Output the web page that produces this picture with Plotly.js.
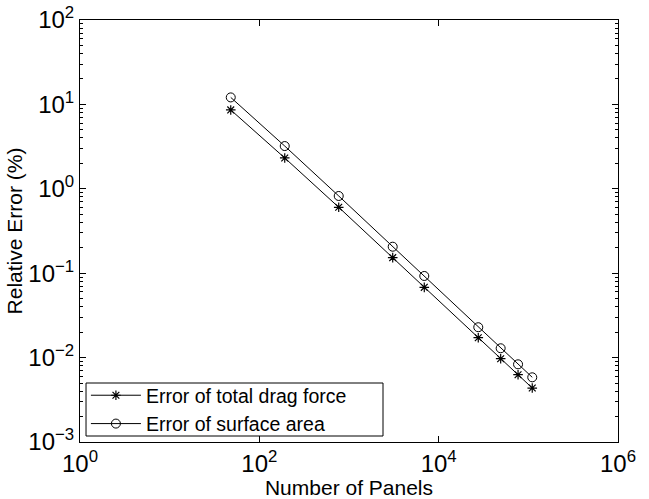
<!DOCTYPE html>
<html>
<head>
<meta charset="utf-8">
<script src="https://cdn.plot.ly/plotly-3.0.1.min.js"></script>
<style>html,body{margin:0;padding:0;background:#fff;}#chart{width:649px;height:499px;}</style>
</head>
<body>
<div id="chart"></div>
<script>
const panels = [48, 192, 768, 3072, 6912, 27648, 49152, 76800, 110592];
const dragError = [8.6, 2.32, 0.604, 0.153, 0.068, 0.0172, 0.0097, 0.00627, 0.00436];
const areaError = [12.1, 3.21, 0.822, 0.206, 0.0927, 0.0229, 0.0129, 0.00833, 0.00584];
const seriesNames = ['Error of total drag force', 'Error of surface area'];
const xTickVals = [1, 100, 10000, 1000000];
const xTickText = ['10<sup>0</sup>', '10<sup>2</sup>', '10<sup>4</sup>', '10<sup>6</sup>'];
const yTickVals = [0.001, 0.01, 0.1, 1, 10, 100];
const yTickText = ['10<sup>−3</sup>', '10<sup>−2</sup>', '10<sup>−1</sup>', '10<sup>0</sup>', '10<sup>1</sup>', '10<sup>2</sup>'];

const font = {family: 'Liberation Sans, Arial, Helvetica, sans-serif', color: '#000'};
const f = s => Object.assign({size: s}, font);

const traces = [
  {x: panels, y: dragError, name: seriesNames[0], mode: 'lines+markers', type: 'scatter',
   line: {color: '#000', width: 1},
   marker: {symbol: 'asterisk-open', size: 8, color: '#000', line: {color: '#000', width: 1.2}}},
  {x: panels, y: areaError, name: seriesNames[1], mode: 'lines+markers', type: 'scatter',
   line: {color: '#000', width: 1},
   marker: {symbol: 'circle-open', size: 9, color: '#000', line: {color: '#000', width: 1}}}
];

const layout = {
  width: 649, height: 499,
  margin: {l: 80, r: 31, t: 20, b: 57},
  paper_bgcolor: '#fff', plot_bgcolor: '#fff',
  font: f(21),
  showlegend: true,
  legend: {x: 0.011, y: -0.0025, xanchor: 'left', yanchor: 'bottom',
    bgcolor: 'rgba(0,0,0,0)', borderwidth: 0,
    font: f(19.5), itemwidth: 50, tracegroupgap: 0},
  shapes: [{type: 'rect', xref: 'paper', yref: 'paper', x0: 0.0112, x1: 0.5632, y0: 0.0142, y1: 0.1398,
    line: {color: '#000', width: 1}, fillcolor: '#fff', layer: 'below'}],
  xaxis: {type: 'log', range: [0, 6], tickmode: 'array', tickvals: xTickVals, ticktext: xTickText,
    showgrid: false, zeroline: false, showline: true, linecolor: '#000', linewidth: 1, mirror: 'ticks',
    ticks: 'inside', ticklen: 6, tickcolor: '#000',
    tickfont: f(24),
    title: {text: 'Number of Panels', font: f(21), standoff: 0}},
  yaxis: {type: 'log', range: [-3, 2], tickmode: 'array', tickvals: yTickVals, ticktext: yTickText,
    showgrid: false, zeroline: false, showline: true, linecolor: '#000', linewidth: 1, mirror: 'ticks',
    ticks: 'inside', ticklen: 6, tickcolor: '#000',
    minor: {ticks: 'inside', ticklen: 3, tickcolor: '#000', dtick: 'D1', showgrid: false},
    tickfont: f(24),
    title: {text: 'Relative Error (%)', font: f(21), standoff: 0}}
};

Plotly.newPlot('chart', traces, layout, {displayModeBar: false, staticPlot: true});
</script>
</body>
</html>
